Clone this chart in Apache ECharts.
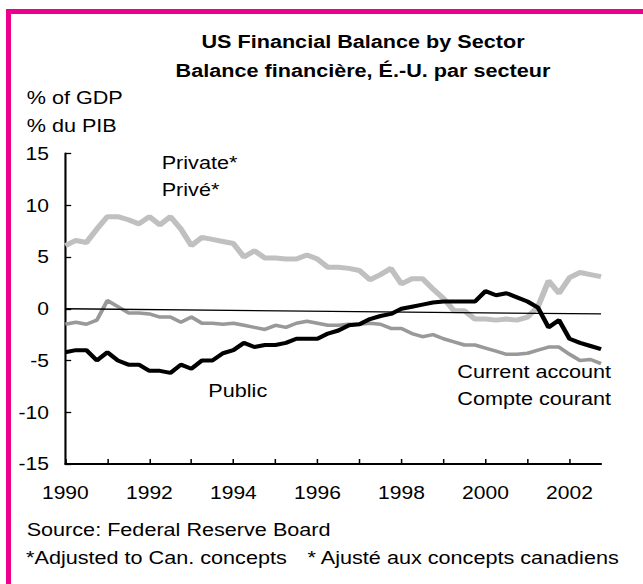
<!DOCTYPE html>
<html>
<head>
<meta charset="utf-8">
<title>US Financial Balance by Sector</title>
<script src="https://cdn.jsdelivr.net/npm/echarts@6/dist/echarts.min.js"></script>
<style>
  html, body { margin: 0; padding: 0; background: #fff; }
  #wrap { position: relative; width: 643px; height: 584px; overflow: hidden; background: #fff; }
  /* pink frame, only the top and left edges are inside the picture */
  #frame { position: absolute; left: 6px; top: 9px; width: 700px; height: 700px;
           border-left: 5px solid #ec008c; border-top: 5px solid #ec008c; }
  /* the original is a little stretched sideways */
  #chart { position: absolute; left: 0; top: 0; width: 550px; height: 584px;
           transform: scaleX(1.1691); transform-origin: 0 0; }
</style>
</head>
<body>
<div id="wrap">
  <div id="frame"></div>
  <div id="chart"></div>
</div>
<script>
// quarterly, 1990Q1 .. 2002Q4, % of GDP
const years = [1990, 1991, 1992, 1993, 1994, 1995, 1996, 1997, 1998, 1999, 2000, 2001, 2002];
const quarters = [];
years.forEach(y => { for (let q = 1; q <= 4; q++) quarters.push(y + 'Q' + q); });

const privateBal = [6.1, 6.6, 6.4, 7.7, 8.9, 8.9, 8.6, 8.2, 8.9, 8.1,
  8.9, 7.7, 6.1, 6.9, 6.7, 6.5, 6.3, 5.0, 5.6, 4.9,
  4.9, 4.8, 4.8, 5.2, 4.8, 4.0, 4.0, 3.9, 3.7, 2.8,
  3.3, 3.9, 2.4, 2.9, 2.9, 1.9, 1.0, -0.2, -0.2, -1.0,
  -1.0, -1.1, -1.0, -1.1, -0.8, 0.2, 2.7, 1.5, 3.0, 3.5,
  3.3, 3.1];
const currentAccount = [-1.5, -1.3, -1.5, -1.1, 0.8, 0.2, -0.4, -0.4, -0.5, -0.8,
  -0.8, -1.3, -0.8, -1.4, -1.4, -1.5, -1.4, -1.6, -1.8, -2.0,
  -1.6, -1.8, -1.4, -1.2, -1.4, -1.6, -1.6, -1.5, -1.5, -1.4,
  -1.5, -1.9, -1.9, -2.4, -2.7, -2.5, -2.9, -3.2, -3.5, -3.5,
  -3.8, -4.1, -4.4, -4.4, -4.3, -4.0, -3.7, -3.7, -4.4, -5.0,
  -4.9, -5.3];
const publicBal = [-4.2, -4.0, -4.0, -5.0, -4.2, -5.0, -5.4, -5.4, -6.0, -6.0,
  -6.2, -5.4, -5.8, -5.0, -5.0, -4.3, -4.0, -3.3, -3.7, -3.5,
  -3.5, -3.3, -2.9, -2.9, -2.9, -2.4, -2.1, -1.6, -1.5, -1.0,
  -0.7, -0.5, 0.0, 0.2, 0.4, 0.6, 0.7, 0.7, 0.7, 0.7,
  1.7, 1.3, 1.5, 1.1, 0.7, 0.1, -1.8, -1.1, -2.9, -3.3,
  -3.6, -3.9];
const yTicks = [-15, -10, -5, 0, 5, 10, 15];
// the zero line in the original drifts down a little to the right
const zeroLine = [0, -0.5];

const font = '"Liberation Sans", Arial, sans-serif';

function label(text, x, y, opts) {
  return Object.assign({
    type: 'text', x: x, y: y, silent: true,
    style: { text: text, fontSize: 18.5, fontFamily: font, fill: '#000', align: 'left', verticalAlign: 'middle' }
  }, opts || {});
}

const chart = echarts.init(document.getElementById('chart'), null, { renderer: 'svg' });
const option = {
  animation: false,
  backgroundColor: 'transparent',
  grid: { left: 55.9, right: 35.9, top: 153.5, bottom: 120, outerBoundsMode: 'none' },
  xAxis: {
    type: 'category',
    data: quarters,
    boundaryGap: false,
    axisLine: { onZero: false, lineStyle: { color: '#000', width: 1.8 } },
    axisTick: { inside: true, length: 5, interval: i => i % 4 === 0, lineStyle: { color: '#000', width: 1.3 } },
    axisLabel: { interval: i => i % 8 === 0, formatter: v => v.slice(0, 4), color: '#000', fontSize: 18, fontFamily: font, margin: 20 },
    splitLine: { show: false }
  },
  yAxis: {
    type: 'value',
    min: yTicks[0],
    max: yTicks[yTicks.length - 1],
    interval: 5,
    axisLine: { show: true, onZero: false, lineStyle: { color: '#000', width: 1.8 } },
    axisTick: { show: true, inside: true, length: 5, lineStyle: { color: '#000', width: 1.3 } },
    axisLabel: { color: '#000', fontSize: 18, fontFamily: font, margin: 14 },
    splitLine: { show: false }
  },
  series: [
    {
      name: 'Private',
      type: 'line',
      data: privateBal,
      symbol: 'none',
      lineStyle: { color: '#c0c0c0', width: 5 },
      markLine: {
        silent: true,
        symbol: 'none',
        label: { show: false },
        lineStyle: { color: '#000', width: 1.3, type: 'solid' },
        data: [[{ coord: [quarters[0], zeroLine[0]] }, { coord: [quarters[quarters.length - 1], zeroLine[1]] }]]
      },
      z: 1
    },
    {
      name: 'Current account',
      type: 'line',
      data: currentAccount,
      symbol: 'none',
      lineStyle: { color: '#999999', width: 3.5 },
      z: 2
    },
    {
      name: 'Public',
      type: 'line',
      data: publicBal,
      symbol: 'none',
      lineStyle: { color: '#000000', width: 4 },
      z: 3
    }
  ],
  graphic: [
    label('US Financial Balance by Sector', 310.5, 42, {}),
    label('Balance financière, É.-U. par secteur', 310.5, 71, {}),
    label('% of GDP', 22.8, 98),
    label('% du PIB', 22.8, 126),
    label('Private*', 138.3, 162.5),
    label('Privé*', 138.3, 190),
    label('Public', 178.2, 391),
    label('Current account', 391.2, 371.5),
    label('Compte courant', 391.2, 399),
    label('Source: Federal Reserve Board', 22.8, 530),
    label('*Adjusted to Can. concepts', 22.3, 557.5),
    label('* Ajusté aux concepts canadiens', 263.1, 557.5)
  ]
};
// titles are bold and centred
option.graphic[0].style.fontWeight = 'bold';
option.graphic[0].style.align = 'center';
option.graphic[1].style.fontWeight = 'bold';
option.graphic[1].style.align = 'center';
chart.setOption(option);
</script>
</body>
</html>
